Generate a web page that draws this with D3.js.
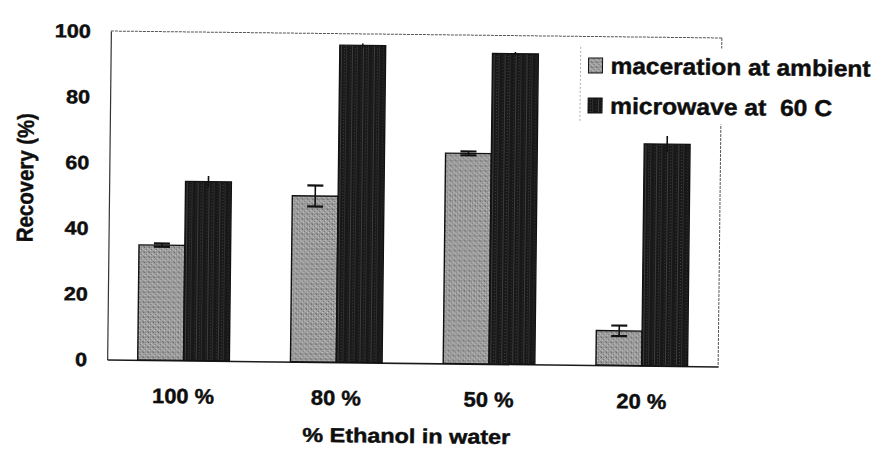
<!DOCTYPE html>
<html>
<head>
<meta charset="utf-8">
<script src="https://cdn.jsdelivr.net/npm/d3@7"></script>
<style>
  html, body { margin: 0; padding: 0; background: #ffffff; }
  svg { display: block; }
  text {
    font-family: "Liberation Sans", Arial, Helvetica, sans-serif;
    font-weight: bold;
    fill: #0e0e0e;
    stroke: #0e0e0e;
    stroke-width: 0.45px;
    white-space: pre;
  }
</style>
</head>
<body>
<svg id="chart" width="875" height="451"></svg>
<script>
// Recovery (%) by ethanol concentration, two extraction methods
const categories = ["100 %", "80 %", "50 %", "20 %"];
const seriesNames = ["maceration at ambient", "microwave at  60 C"];
const maceration = [35, 50.5, 64, 10.5];
const macerationErr = [0.5, 3.2, 0.6, 1.6];
const microwave = [54.5, 96.5, 94.5, 67.5];
const microwaveErr = [1.7, 0.6, 0.5, 2.5];
const yTicks = [0, 20, 40, 60, 80, 100];
const xTitle = "% Ethanol in water";
const yTitle = "Recovery (%)";

const plot = { left: 109, top: 34.5, right: 720, bottom: 363 };

const svg = d3.select("#chart");
const defs = svg.append("defs");

// Halftone-like fills for the two series
const pm = defs.append("pattern").attr("id", "patMac")
  .attr("patternUnits", "userSpaceOnUse").attr("width", 5).attr("height", 5);
pm.append("rect").attr("width", 5).attr("height", 5).attr("fill", "#9e9e9e");
[[0, 0, "#5f5f5f"], [2, 2, "#707070"], [4, 4, "#7a7a7a"], [1, 3, "#c9c9c9"],
 [3, 1, "#bdbdbd"], [2, 0, "#848484"], [4, 2, "#b5b5b5"], [0, 4, "#8c8c8c"]]
  .forEach(([px, py, c]) => pm.append("rect").attr("x", px).attr("y", py)
    .attr("width", 1).attr("height", 1).attr("fill", c));

const pw = defs.append("pattern").attr("id", "patMw")
  .attr("patternUnits", "userSpaceOnUse").attr("width", 11).attr("height", 3);
pw.append("rect").attr("width", 11).attr("height", 3).attr("fill", "#181818");
pw.append("rect").attr("x", 3).attr("width", 1).attr("height", 3).attr("fill", "#3c3c3c");
pw.append("rect").attr("x", 8).attr("width", 1).attr("height", 3).attr("fill", "#2e2e2e");
pw.append("rect").attr("x", 6).attr("y", 1).attr("width", 1).attr("height", 1).attr("fill", "#444");
pw.append("rect").attr("x", 1).attr("y", 2).attr("width", 1).attr("height", 1).attr("fill", "#333");

const fills = ["url(#patMac)", "url(#patMw)"];

// the printed page sits slightly skewed
const g = svg.append("g").attr("transform", "rotate(0.65 415 199)");

const x0 = d3.scaleBand().domain(categories)
  .range([plot.left, plot.right]).paddingInner(0.4).paddingOuter(0.2);
const x1 = d3.scaleBand().domain([0, 1]).range([0, x0.bandwidth()]);
const y = d3.scaleLinear().domain([0, 100]).range([plot.bottom, plot.top]);

// plot frame
g.append("line").attr("x1", plot.left).attr("x2", plot.right)
  .attr("y1", plot.top).attr("y2", plot.top)
  .attr("stroke", "#555").attr("stroke-width", 1).attr("stroke-dasharray", "3,1");
g.append("line").attr("x1", plot.right).attr("x2", plot.right)
  .attr("y1", plot.top).attr("y2", plot.bottom)
  .attr("stroke", "#555").attr("stroke-width", 1).attr("stroke-dasharray", "3,1");

// y axis (labels only, no tick marks)
const yAxis = d3.axisLeft(y).tickValues(yTicks).tickSize(0).tickPadding(20);
const ya = g.append("g").attr("transform", `translate(${plot.left},0)`).call(yAxis);
ya.select(".domain").attr("stroke", "#333").attr("stroke-width", 1.2);
ya.selectAll(".tick text")
  .attr("font-size", 19).attr("font-family", null)
  .attr("textLength", d => String(d).length * 12)
  .attr("lengthAdjust", "spacingAndGlyphs")
  .attr("dy", "0.34em");

// x axis
const xAxis = d3.axisBottom(x0).tickSize(0).tickPadding(0);
const xa = g.append("g").attr("transform", `translate(0,${plot.bottom})`).call(xAxis);
xa.select(".domain").attr("stroke", "#1a1a1a").attr("stroke-width", 1.6);
xa.selectAll(".tick text")
  .attr("font-size", 21).attr("font-family", null)
  .attr("y", 43).attr("dy", 0)
  .attr("textLength", d => d.length === 5 ? 62 : 50)
  .attr("lengthAdjust", "spacingAndGlyphs");

// bars
const groups = g.append("g").selectAll("g").data(categories).join("g")
  .attr("transform", d => `translate(${x0(d)},0)`);

const rows = categories.map((c, i) => [
  { s: 0, v: maceration[i], e: macerationErr[i] },
  { s: 1, v: microwave[i], e: microwaveErr[i] }
]);

groups.selectAll("rect").data((d, i) => rows[i]).join("rect")
  .attr("x", d => x1(d.s))
  .attr("width", x1.bandwidth())
  .attr("y", d => y(d.v))
  .attr("height", d => y(0) - y(d.v))
  .attr("fill", d => fills[d.s])
  .attr("stroke", "#111")
  .attr("stroke-width", 1.4);

// error bars
groups.each(function (c, i) {
  const sel = d3.select(this);
  rows[i].forEach(d => {
    const cx = x1(d.s) + x1.bandwidth() / 2;
    sel.append("line").attr("x1", cx).attr("x2", cx)
      .attr("y1", y(d.v + d.e)).attr("y2", y(d.v - d.e))
      .attr("stroke", "#111").attr("stroke-width", 1.6);
    if (d.s === 0) {
      [d.v + d.e, d.v - d.e].forEach(v => sel.append("line")
        .attr("x1", cx - 8).attr("x2", cx + 8)
        .attr("y1", y(v)).attr("y2", y(v))
        .attr("stroke", "#111").attr("stroke-width", 2.2));
    }
  });
});

// axis titles
g.append("text").attr("x", 409).attr("y", 443)
  .attr("text-anchor", "middle").attr("font-size", 20)
  .attr("textLength", 208).attr("lengthAdjust", "spacingAndGlyphs")
  .text(xTitle);
g.append("text").attr("transform", "translate(33,182) rotate(-90)")
  .attr("text-anchor", "middle").attr("font-size", 23)
  .attr("textLength", 129).attr("lengthAdjust", "spacingAndGlyphs")
  .text(yTitle);

// legend
const lg = g.append("g");
lg.append("rect").attr("x", 579).attr("y", 45).attr("width", 330).attr("height", 76)
  .attr("fill", "#fff");
lg.append("line").attr("x1", 579).attr("x2", 579).attr("y1", 45).attr("y2", 121)
  .attr("stroke", "#999").attr("stroke-width", 0.8).attr("stroke-dasharray", "2,2");
const legendWidths = [260, 222];
seriesNames.forEach((name, i) => {
  const cy = 63.5 + i * 40;
  lg.append("rect").attr("x", 587).attr("y", cy - 7.5).attr("width", 14).attr("height", 15)
    .attr("fill", fills[i]).attr("stroke", "#111").attr("stroke-width", 1);
  lg.append("text").attr("x", 609).attr("y", cy + 8)
    .attr("font-size", 23)
    .attr("textLength", legendWidths[i]).attr("lengthAdjust", "spacingAndGlyphs")
    .text(name);
});
</script>
</body>
</html>
